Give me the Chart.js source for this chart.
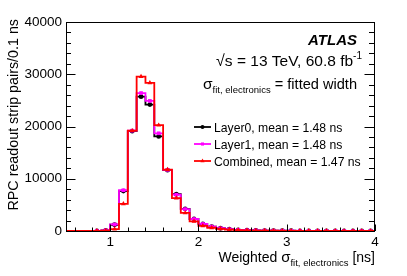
<!DOCTYPE html>
<html>
<head>
<meta charset="utf-8">
<script src="https://cdn.jsdelivr.net/npm/chart.js@4/dist/chart.umd.min.js"></script>
<style>
  html, body { margin: 0; padding: 0; background: #fff; }
  #wrap { width: 407px; height: 276px; }
</style>
</head>
<body>
<div id="wrap"><canvas id="histChart" width="407" height="276"></canvas></div>
<script>
// Bin centres (0.1 ns bins from 0.5 to 4.0 ns)
const binCenters = [0.55, 0.65, 0.75, 0.85, 0.95, 1.05, 1.15, 1.25, 1.35, 1.45, 1.55, 1.65, 1.75, 1.85, 1.95,
                    2.05, 2.15, 2.25, 2.35, 2.45, 2.55, 2.65, 2.75, 2.85, 2.95, 3.05, 3.15, 3.25, 3.35, 3.45,
                    3.55, 3.65, 3.75, 3.85, 3.95];
const binWidth = 0.1;

const layer0 = [0, 0, 0, 40, 120, 1200, 7650, 19100, 25700, 24200, 18100, 11650, 7050, 4250, 2300,
                1350, 850, 530, 340, 230, 160, 120, 90, 70, 55, 45, 38, 32, 27, 23,
                20, 17, 15, 13, 11];
const layer1 = [0, 0, 0, 40, 130, 1250, 7800, 19200, 26400, 24900, 18700, 11700, 6950, 4200, 2300,
                1350, 850, 530, 340, 230, 160, 120, 90, 70, 55, 45, 38, 32, 27, 23,
                20, 17, 15, 13, 11];
const combined = [0, 0, 0, 20, 60, 350, 5200, 19200, 29550, 28350, 20250, 11750, 6300, 3450, 1850,
                  1000, 620, 400, 260, 170, 120, 90, 70, 55, 42, 35, 29, 24, 20, 17,
                  15, 13, 11, 10, 9];

const xTicks = [1, 2, 3, 4];
const yTicks = [0, 10000, 20000, 30000, 40000];

const FONT = "'Liberation Sans', Arial, Helvetica, sans-serif";

// histogram outline: points at lower bin edges, plus the last upper edge
function stepData(vals) {
    const pts = binCenters.map((c, i) => ({ x: c - binWidth / 2, y: vals[i] }));
    pts.push({ x: binCenters[binCenters.length - 1] + binWidth / 2, y: vals[vals.length - 1] });
    return pts;
}
function markerData(vals) {
    return binCenters.map((c, i) => ({ x: c, y: vals[i] })).filter(p => p.y > 0);
}

function lineSet(vals, color) {
    return { type: 'line', data: stepData(vals), borderColor: color, borderWidth: 1.8, stepped: 'before',
             pointRadius: 0, fill: false, clip: false };
}
function markerSet(vals, color, style, radius) {
    return { type: 'scatter', data: markerData(vals), showLine: false, pointStyle: style,
             pointRadius: radius, backgroundColor: color, borderColor: color, borderWidth: 0 };
}

// draw a run of text pieces (with sub/superscripts) on one baseline
function drawRuns(ctx, runs, x, y, align) {
    let total = 0;
    runs.forEach(r => { ctx.font = r.font; total += ctx.measureText(r.t).width; });
    let cx = align === 'right' ? x - total : x;
    ctx.textAlign = 'left';
    runs.forEach(r => {
        ctx.font = r.font;
        ctx.fillText(r.t, cx, y + (r.dy || 0));
        cx += ctx.measureText(r.t).width;
    });
    return cx - total;
}

const decorPlugin = {
    id: 'decor',
    afterDraw(chart) {
        const ctx = chart.ctx;
        const a = chart.chartArea;
        const xs = chart.scales.x, ys = chart.scales.y;
        ctx.save();
        ctx.strokeStyle = '#000';
        ctx.fillStyle = '#000';
        ctx.lineWidth = 1;

        // frame
        ctx.strokeRect(Math.round(a.left) + 0.5, Math.round(a.top) + 0.5,
                       Math.round(a.right - a.left) - 1, Math.round(a.bottom - a.top));

        // y ticks (major every 10000, minor every 2000) on both sides
        ctx.beginPath();
        for (let v = 0; v <= 40000; v += 2000) {
            const py = Math.round(ys.getPixelForValue(v)) + 0.5;
            const len = v % 10000 === 0 ? 9.5 : 5;
            ctx.moveTo(a.left, py); ctx.lineTo(a.left + len, py);
            ctx.moveTo(a.right - 1, py); ctx.lineTo(a.right - 1 - len, py);
        }
        // x ticks (major every 1, minor every 0.2)
        for (let i = 3; i <= 20; i++) {
            const v = i * 0.2;
            const px = Math.round(xs.getPixelForValue(v)) + 0.5;
            const len = i % 5 === 0 ? 6.5 : 3.5;
            ctx.moveTo(px, a.bottom); ctx.lineTo(px, a.bottom - len);
        }
        ctx.stroke();

        const f = (w, s) => w + ' ' + s + 'px ' + FONT;

        // ATLAS label and texts
        ctx.textBaseline = 'alphabetic';
        drawRuns(ctx, [{ t: 'ATLAS', font: 'italic bold 15px ' + FONT }], 357, 44.5, 'right');
        drawRuns(ctx, [
            { t: '\u221A', font: f('normal', 16) },
            { t: 's', font: f('normal', 15.5) },
            { t: ' = 13 TeV, 60.8 fb', font: f('normal', 15.5) },
            { t: '-1', font: f('normal', 10), dy: -6.5 }
        ], 362, 65.5, 'right');
        drawRuns(ctx, [
            { t: '\u03C3', font: f('normal', 15.5) },
            { t: 'fit, electronics', font: f('normal', 9.5), dy: 4 },
            { t: ' = fitted width', font: f('normal', 14.6) }
        ], 203, 88.5, 'left');

        // legend
        const legend = [
            { label: 'Layer0, mean = 1.48 ns', color: '#000000', style: 'circle', r: 2 },
            { label: 'Layer1, mean = 1.48 ns', color: '#ff00ff', style: 'rect', r: 2.2 },
            { label: 'Combined, mean = 1.47 ns', color: '#ff0000', style: 'triangle', r: 2.4 }
        ];
        legend.forEach((e, i) => {
            const cy = 127 + i * 17;
            ctx.strokeStyle = e.color;
            ctx.fillStyle = e.color;
            ctx.lineWidth = 1.8;
            ctx.beginPath();
            ctx.moveTo(194, cy); ctx.lineTo(211, cy);
            ctx.stroke();
            Chart.helpers.drawPoint(ctx, { pointStyle: e.style, radius: e.r, rotation: 0, borderWidth: 0 }, 202.5, cy);
            ctx.fillStyle = '#000';
            drawRuns(ctx, [{ t: e.label, font: f('normal', 12.2) }], 214, cy + 4.5, 'left');
        });

        // axis titles
        ctx.fillStyle = '#000';
        drawRuns(ctx, [
            { t: 'Weighted ', font: f('normal', 14) },
            { t: '\u03C3', font: f('normal', 15) },
            { t: 'fit, electronics', font: f('normal', 9.5), dy: 4 },
            { t: ' [ns]', font: f('normal', 14) }
        ], 375, 262, 'right');

        ctx.save();
        ctx.translate(17.5, 19);
        ctx.rotate(-Math.PI / 2);
        ctx.font = f('normal', 14.3);
        ctx.textAlign = 'right';
        ctx.fillText('RPC readout strip pairs/0.1 ns', 0, 0);
        ctx.restore();

        ctx.restore();
    }
};

const chartCanvas = document.getElementById('histChart');
new Chart(chartCanvas, {
    data: {
        datasets: [
            markerSet(combined, '#ff0000', 'triangle', 2.8),
            lineSet(combined, '#ff0000'),
            markerSet(layer1, '#ff00ff', 'rect', 2.6),
            lineSet(layer1, '#ff00ff'),
            markerSet(layer0, '#000000', 'circle', 2.4),
            lineSet(layer0, '#000000')
        ]
    },
    options: {
        responsive: false,
        animation: false,
        devicePixelRatio: 1,
        layout: { padding: { left: 0, right: 32, top: 22, bottom: 0 } },
        plugins: { legend: { display: false }, tooltip: { enabled: false } },
        scales: {
            x: {
                type: 'linear', min: 0.5, max: 4,
                grid: { display: false, drawTicks: false },
                border: { display: false },
                afterBuildTicks: axis => { axis.ticks = xTicks.map(v => ({ value: v })); },
                afterFit: axis => { axis.height = 45; },
                ticks: { color: '#000', padding: 3, maxRotation: 0, font: { family: FONT, size: 13.5 },
                         callback: v => String(v) }
            },
            y: {
                type: 'linear', min: 0, max: 40000,
                grid: { display: false, drawTicks: false },
                border: { display: false },
                afterBuildTicks: axis => { axis.ticks = yTicks.map(v => ({ value: v })); },
                afterFit: axis => { axis.width = 66; },
                ticks: { color: '#000', padding: 4, font: { family: FONT, size: 13.5 },
                         callback: v => String(v) }
            }
        }
    },
    plugins: [decorPlugin]
});
</script>
</body>
</html>
